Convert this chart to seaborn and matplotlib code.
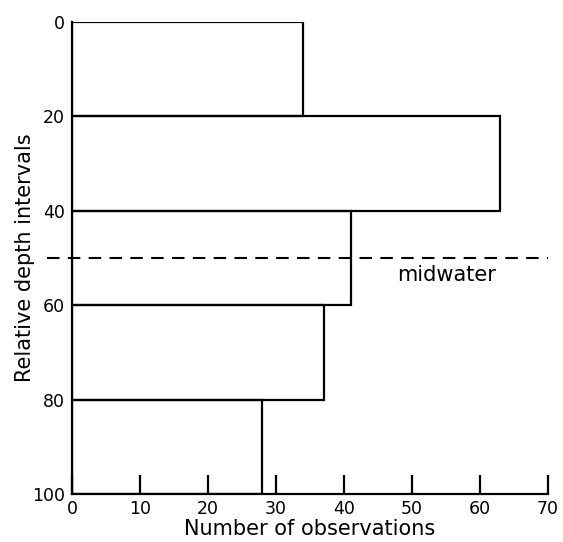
import matplotlib
matplotlib.use("Agg")
import matplotlib.pyplot as plt
import seaborn as sns
import pandas as pd

bin_edges = [0, 20, 40, 60, 80, 100]
depth_mid = [10, 30, 50, 70, 90]
counts = [34, 63, 41, 37, 28]
x_ticks = [0, 10, 20, 30, 40, 50, 60, 70]
y_ticks = [0, 20, 40, 60, 80, 100]
midwater_depth = 50

sns.set_theme(style="ticks")
plt.rcParams['font.family'] = ['DejaVu Sans']
plt.rcParams['text.color'] = 'black'
plt.rcParams['axes.labelcolor'] = 'black'
plt.rcParams['xtick.color'] = 'black'
plt.rcParams['ytick.color'] = 'black'
plt.rcParams['axes.edgecolor'] = 'black'

df = pd.DataFrame({"depth": depth_mid, "n": counts})

fig = plt.figure(figsize=(5.63, 5.42), dpi=100)
ax = fig.add_axes([0.128, 0.0886, 0.8455, 0.871])

sns.histplot(data=df, y="depth", weights="n", bins=bin_edges, fill=False,
             color="black", linewidth=1.6, ax=ax, element="bars")

ax.axhline(midwater_depth, xmin=-0.053, xmax=1.0, color="black", lw=1.5,
           dashes=(6, 4), clip_on=False)
ax.text(47.8, 53.6, "midwater", fontsize=15, color="black", va="center", ha="left")

ax.set_xlim(0, 70)
ax.set_ylim(100, 0)
ax.set_xticks(x_ticks)
ax.set_yticks(y_ticks)
ax.tick_params(axis="x", direction="in", length=14, width=1.6, labelsize=12.5, pad=4,
               colors="black")
ax.tick_params(axis="y", length=0, labelsize=12.5, pad=5, colors="black")
for s in ["top", "right"]:
    ax.spines[s].set_visible(False)
for s in ["left", "bottom"]:
    ax.spines[s].set_linewidth(1.6)
    ax.spines[s].set_color("black")
ax.set_xlabel("Number of observations", fontsize=15, labelpad=1, color="black")
ax.set_ylabel("Relative depth intervals", fontsize=15, labelpad=-2, color="black")

fig.savefig("out.png", dpi=100)
